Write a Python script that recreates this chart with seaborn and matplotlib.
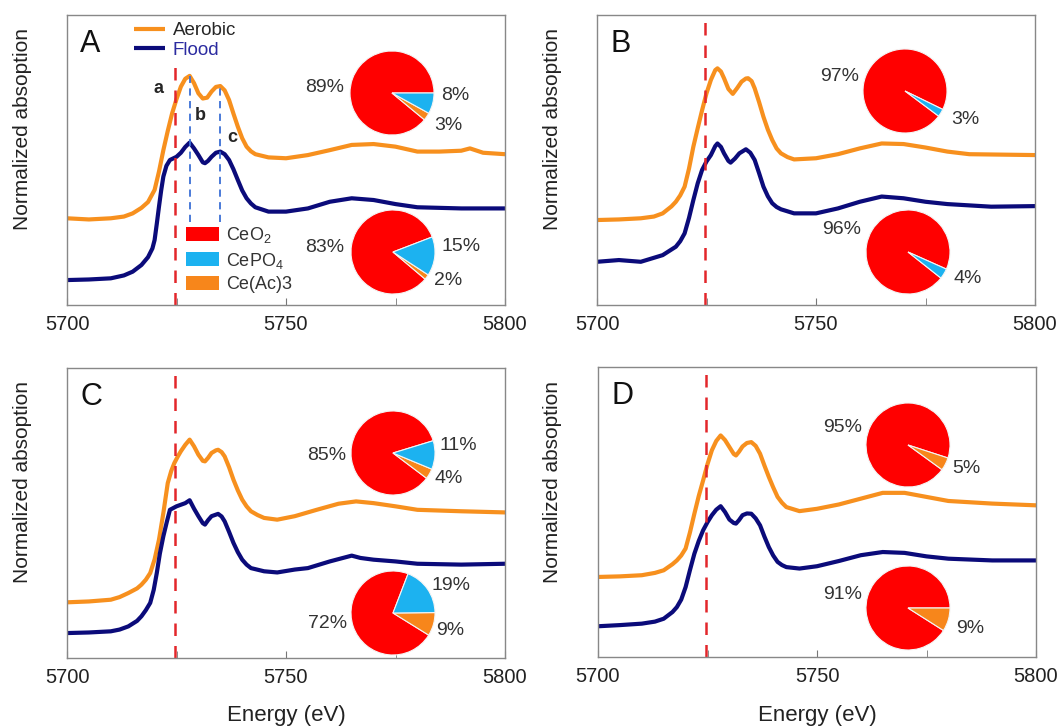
import pandas as pd
import seaborn as sns
import matplotlib.pyplot as plt
from matplotlib.patches import Patch
from matplotlib.lines import Line2D

# Ce L3-edge XANES (y = normalized absorption, arbitrary offset units)
a_aer_e = [5700, 5705, 5710, 5713, 5715, 5717, 5718.5, 5720, 5721, 5722, 5723, 5724, 5725, 5726, 5727, 5728, 5729, 5730, 5731, 5732, 5733, 5734, 5735, 5736, 5737, 5738, 5739, 5740, 5741, 5742, 5743, 5746, 5750, 5755, 5760, 5765, 5770, 5775, 5780, 5785, 5790, 5792, 5795, 5800]
a_aer_y = [0.299, 0.295, 0.299, 0.305, 0.316, 0.335, 0.355, 0.397, 0.460, 0.534, 0.600, 0.661, 0.710, 0.753, 0.780, 0.790, 0.765, 0.730, 0.712, 0.715, 0.736, 0.752, 0.755, 0.740, 0.707, 0.660, 0.615, 0.575, 0.546, 0.530, 0.520, 0.509, 0.506, 0.517, 0.534, 0.552, 0.555, 0.546, 0.529, 0.529, 0.532, 0.540, 0.525, 0.520]
a_fld_e = [5700, 5705, 5710, 5713, 5715, 5717, 5718.5, 5719.5, 5720, 5720.5, 5721, 5721.5, 5722, 5722.7, 5723.5, 5725, 5726, 5727, 5728, 5729, 5730, 5731, 5731.5, 5732.2, 5733, 5734, 5735, 5736, 5737, 5738, 5739, 5740, 5741, 5742, 5743, 5746, 5750, 5755, 5760, 5765, 5770, 5775, 5780, 5790, 5800]
a_fld_y = [0.086, 0.088, 0.092, 0.102, 0.115, 0.138, 0.165, 0.195, 0.224, 0.280, 0.339, 0.395, 0.443, 0.480, 0.500, 0.511, 0.525, 0.545, 0.560, 0.540, 0.517, 0.492, 0.489, 0.497, 0.511, 0.525, 0.529, 0.520, 0.500, 0.468, 0.431, 0.395, 0.368, 0.350, 0.337, 0.322, 0.322, 0.333, 0.356, 0.368, 0.362, 0.348, 0.337, 0.333, 0.333]

b_aer_e = [5700, 5705, 5710, 5713, 5715, 5717, 5718, 5719, 5720, 5721, 5722, 5723, 5724, 5725, 5726, 5727, 5727.5, 5728.3, 5729, 5730, 5731, 5732, 5733, 5734, 5734.5, 5735.3, 5736, 5737, 5738, 5739, 5740, 5741, 5742, 5743.5, 5745, 5750, 5755, 5760, 5765, 5770, 5775, 5780, 5785, 5790, 5800]
b_aer_y = [0.293, 0.295, 0.299, 0.305, 0.316, 0.340, 0.356, 0.378, 0.408, 0.470, 0.546, 0.610, 0.672, 0.730, 0.776, 0.810, 0.816, 0.805, 0.782, 0.745, 0.728, 0.748, 0.770, 0.781, 0.782, 0.772, 0.747, 0.700, 0.649, 0.605, 0.569, 0.540, 0.523, 0.510, 0.502, 0.506, 0.520, 0.540, 0.557, 0.555, 0.543, 0.529, 0.520, 0.519, 0.517]
b_fld_e = [5700, 5705, 5710, 5715, 5718, 5719, 5720, 5721, 5722, 5723, 5724, 5725, 5726, 5727, 5727.5, 5728.3, 5729, 5730, 5730.5, 5731.5, 5732.5, 5734, 5735, 5736, 5737, 5738, 5739, 5740, 5741, 5742, 5745, 5750, 5755, 5760, 5765, 5770, 5775, 5780, 5790, 5800]
b_fld_y = [0.149, 0.155, 0.149, 0.172, 0.201, 0.220, 0.247, 0.300, 0.362, 0.420, 0.466, 0.495, 0.517, 0.548, 0.557, 0.545, 0.523, 0.497, 0.491, 0.505, 0.523, 0.537, 0.525, 0.500, 0.455, 0.408, 0.375, 0.351, 0.338, 0.330, 0.316, 0.316, 0.333, 0.356, 0.374, 0.368, 0.356, 0.348, 0.339, 0.341]

c_aer_e = [5700, 5705, 5710, 5712, 5714, 5716, 5717, 5718, 5719, 5720, 5721, 5722, 5723, 5723.8, 5724.5, 5725.3, 5726, 5727, 5728, 5729, 5730, 5731, 5731.5, 5732.2, 5733, 5734, 5734.5, 5735.3, 5736, 5737, 5738, 5739, 5740, 5741, 5742, 5743.5, 5745, 5748, 5752, 5757, 5762, 5766, 5770, 5775, 5780, 5790, 5800]
c_aer_y = [0.192, 0.195, 0.201, 0.210, 0.224, 0.240, 0.253, 0.270, 0.293, 0.340, 0.408, 0.500, 0.603, 0.645, 0.672, 0.695, 0.713, 0.735, 0.753, 0.730, 0.701, 0.680, 0.678, 0.690, 0.707, 0.716, 0.718, 0.710, 0.695, 0.658, 0.615, 0.578, 0.546, 0.523, 0.506, 0.493, 0.483, 0.477, 0.489, 0.511, 0.532, 0.540, 0.534, 0.523, 0.511, 0.506, 0.502]
c_fld_e = [5700, 5705, 5710, 5712, 5714, 5716, 5717, 5718, 5719, 5719.8, 5720.5, 5721.2, 5722, 5722.8, 5723.5, 5725, 5727, 5728, 5729, 5730, 5731, 5731.5, 5732.2, 5733, 5734.5, 5735.3, 5736, 5737, 5738, 5739, 5740, 5741, 5742, 5745, 5748, 5752, 5755, 5760, 5763, 5765, 5767, 5770, 5775, 5780, 5790, 5800]
c_fld_y = [0.086, 0.088, 0.092, 0.098, 0.109, 0.128, 0.144, 0.165, 0.190, 0.235, 0.293, 0.360, 0.420, 0.470, 0.511, 0.523, 0.534, 0.544, 0.515, 0.489, 0.465, 0.460, 0.475, 0.489, 0.497, 0.488, 0.471, 0.435, 0.397, 0.365, 0.339, 0.322, 0.310, 0.299, 0.295, 0.305, 0.310, 0.333, 0.345, 0.353, 0.345, 0.339, 0.333, 0.325, 0.322, 0.325]

d_aer_e = [5700, 5705, 5710, 5713, 5715, 5717, 5718, 5719, 5720, 5721, 5722, 5723, 5724, 5725, 5726, 5727, 5728, 5729, 5730, 5731, 5731.5, 5732.2, 5733, 5734, 5735, 5736, 5737, 5738, 5739, 5740, 5741, 5742, 5743, 5746, 5750, 5755, 5760, 5765, 5770, 5775, 5780, 5790, 5800]
d_aer_y = [0.276, 0.278, 0.282, 0.290, 0.299, 0.320, 0.333, 0.350, 0.374, 0.430, 0.494, 0.555, 0.609, 0.665, 0.713, 0.745, 0.764, 0.748, 0.724, 0.700, 0.695, 0.708, 0.726, 0.738, 0.741, 0.728, 0.701, 0.660, 0.621, 0.585, 0.552, 0.532, 0.517, 0.503, 0.511, 0.526, 0.546, 0.566, 0.566, 0.552, 0.538, 0.529, 0.523]
d_fld_e = [5700, 5705, 5710, 5713, 5715, 5717, 5718, 5719, 5720, 5721, 5722, 5723, 5724, 5725, 5726, 5727, 5728, 5729, 5730, 5731, 5731.5, 5732.2, 5733, 5734, 5735, 5736, 5737, 5738, 5739, 5740, 5741, 5742, 5743, 5746, 5750, 5755, 5760, 5765, 5770, 5775, 5780, 5790, 5800]
d_fld_y = [0.106, 0.110, 0.115, 0.122, 0.132, 0.155, 0.172, 0.198, 0.241, 0.300, 0.356, 0.400, 0.437, 0.465, 0.489, 0.508, 0.520, 0.500, 0.474, 0.462, 0.460, 0.472, 0.489, 0.495, 0.494, 0.478, 0.454, 0.415, 0.379, 0.350, 0.328, 0.317, 0.310, 0.305, 0.313, 0.331, 0.351, 0.362, 0.359, 0.347, 0.339, 0.333, 0.333]

# linear combination fit fractions (%), order: CeO2, CePO4, Ce(Ac)3
phases = ["CeO$_2$", "CePO$_4$", "Ce(Ac)3"]
pie_a_aer = [89, 8, 3]
pie_a_fld = [83, 15, 2]
pie_b_aer = [97, 3, 0]
pie_b_fld = [96, 4, 0]
pie_c_aer = [85, 11, 4]
pie_c_fld = [72, 19, 9]
pie_d_aer = [95, 0, 5]
pie_d_fld = [91, 0, 9]

panel_letters = ["A", "B", "C", "D"]
conditions = ["Aerobic", "Flood"]

ORANGE = "#F7901E"
NAVY = "#0B0B7A"
phase_colors = ["#FF0000", "#1CB2F0", "#F7861B"]

sns.set_style("ticks")
plt.rcParams["font.family"] = ["Liberation Sans", "DejaVu Sans"]
plt.rcParams["mathtext.fontset"] = "custom"
plt.rcParams["mathtext.rm"] = "Liberation Sans"
plt.rcParams["mathtext.it"] = "Liberation Sans"

W, H = 1063, 727
fig = plt.figure(figsize=(W / 100, H / 100), dpi=100)


def px_axes(l, t, r, b):
    return fig.add_axes([l / W, 1 - b / H, (r - l) / W, (b - t) / H])


def draw_pie(cx, cy, vals, start, label_pos, rad=42):
    pax = px_axes(cx - rad, cy - rad, cx + rad, cy + rad)
    # counter-clockwise order: CeO2, Ce(Ac)3, CePO4
    order = [0, 2, 1]
    v = [vals[i] for i in order if vals[i] > 0]
    c = [phase_colors[i] for i in order if vals[i] > 0]
    pax.pie(v, colors=c, startangle=start, counterclock=True, radius=1,
            wedgeprops=dict(edgecolor="#f4f4f4", linewidth=0.8))
    pax.set_xlim(-1, 1)
    pax.set_ylim(-1, 1)
    pax.set_aspect("equal")
    pax.axis("off")
    shown = [x for x in vals if x > 0]
    for val, (dx, dy) in zip(shown, label_pos):
        pax.text(dx, dy, f"{val}%", ha="center", va="center", fontsize=14,
                 color="#333333", clip_on=False)


panels = [
    (a_aer_e, a_aer_y, a_fld_e, a_fld_y, (67, 15, 505, 305)),
    (b_aer_e, b_aer_y, b_fld_e, b_fld_y, (597, 15, 1035, 305)),
    (c_aer_e, c_aer_y, c_fld_e, c_fld_y, (67, 368, 505, 658)),
    (d_aer_e, d_aer_y, d_fld_e, d_fld_y, (598, 367, 1036, 657)),
]

axes = []
for k, (ae, ay, fe, fy, box) in enumerate(panels):
    ax = px_axes(*box)
    df = pd.concat([
        pd.DataFrame({"energy": ae, "absorption": ay, "condition": conditions[0]}),
        pd.DataFrame({"energy": fe, "absorption": fy, "condition": conditions[1]}),
    ])
    sns.lineplot(data=df, x="energy", y="absorption", hue="condition",
                 palette={"Aerobic": ORANGE, "Flood": NAVY}, linewidth=3,
                 legend=False, ax=ax)
    for ln in ax.get_lines():
        ln.set_solid_joinstyle("round")
    # in panel A the edge marker stops below the legend
    ax.axvline(5724.6, ymax=0.82 if k == 0 else 1, color="#E3262B", lw=1.8, dashes=(5, 4))
    ax.set_xlim(5700, 5800)
    ax.set_ylim(0, 1)
    ax.set_xticks([5700, 5750, 5800])
    ax.set_xticks([5725, 5775], minor=True)
    ax.set_yticks([])
    ax.tick_params(axis="x", which="both", direction="in", length=5,
                   color="#777777", labelsize=14.5, pad=7, labelcolor="#222222")
    for s in ax.spines.values():
        s.set_color("#888888")
        s.set_linewidth(1.0)
    ax.set_xlabel("")
    ax.set_ylabel("")
    ax.text(0.03, 0.9, panel_letters[k], transform=ax.transAxes, fontsize=22,
            ha="left", va="center", color="#111111")
    axes.append(ax)

# panel A annotations
axA = axes[0]
axA.vlines([5728, 5735], 0.287, [0.79, 0.755], colors="#3C6FD6", lw=1.3,
           linestyles=(0, (4, 3)))
axA.text(5721.0, 0.745, "a", fontsize=13, fontweight="bold", ha="center", va="center")
axA.text(5730.4, 0.652, "b", fontsize=13, fontweight="bold", ha="center", va="center")
axA.text(5737.7, 0.576, "c", fontsize=13, fontweight="bold", ha="center", va="center")

line_handles = [Line2D([], [], color=ORANGE, lw=3, solid_capstyle="butt"),
                Line2D([], [], color=NAVY, lw=3, solid_capstyle="butt")]
leg1 = axA.legend(line_handles, conditions, loc="upper left", bbox_to_anchor=(0.152, 0.975),
                  frameon=False, fontsize=13.5, handlelength=1.7, handletextpad=0.4,
                  labelspacing=0.12, borderpad=0, borderaxespad=0)
leg1.get_texts()[1].set_color("#2B2BA0")
axA.add_artist(leg1)

patch_handles = [Patch(facecolor=c, edgecolor="none") for c in phase_colors]
leg2 = axA.legend(patch_handles, phases, loc="upper left", bbox_to_anchor=(0.272, 0.275),
                  frameon=False, fontsize=13, handlelength=1.8, handleheight=0.8,
                  handletextpad=0.4, labelspacing=0.3, borderpad=0, borderaxespad=0)
for t in leg2.get_texts():
    t.set_color("#333333")

# pies: (centre px, values, start angle, label offsets in pie radii)
draw_pie(392, 93, pie_a_aer, 0, [(-1.6, 0.12), (1.51, -0.05), (1.34, -0.77)])
draw_pie(393, 252, pie_a_fld, 21, [(-1.63, 0.1), (1.61, 0.12), (1.32, -0.67)])
draw_pie(905, 91, pie_b_aer, -26, [(-1.56, 0.34), (1.44, -0.67)])
draw_pie(908, 252, pie_b_fld, -24, [(-1.59, 0.53), (1.42, -0.62)])
draw_pie(393, 453, pie_c_aer, 17, [(-1.59, -0.05), (1.56, 0.19), (1.32, -0.6)])
draw_pie(393, 613, pie_c_fld, 69, [(-1.56, -0.24), (1.37, 0.65), (1.37, -0.41)])
draw_pie(908, 445, pie_d_aer, -18, [(-1.56, 0.41), (1.4, -0.56)])
draw_pie(908, 608, pie_d_fld, 0, [(-1.56, 0.31), (1.49, -0.48)])

# shared labels
for x, y in [(22, 129), (553, 129), (22, 482), (553, 482)]:
    fig.text(x / W, 1 - y / H, "Normalized absoption", rotation=90, fontsize=15,
             ha="center", va="center", color="#222222")
for x in [286, 817]:
    fig.text(x / W, 1 - 715 / H, "Energy (eV)", fontsize=16, ha="center",
             va="center", color="#222222")

fig.savefig("out.png", dpi=100)
